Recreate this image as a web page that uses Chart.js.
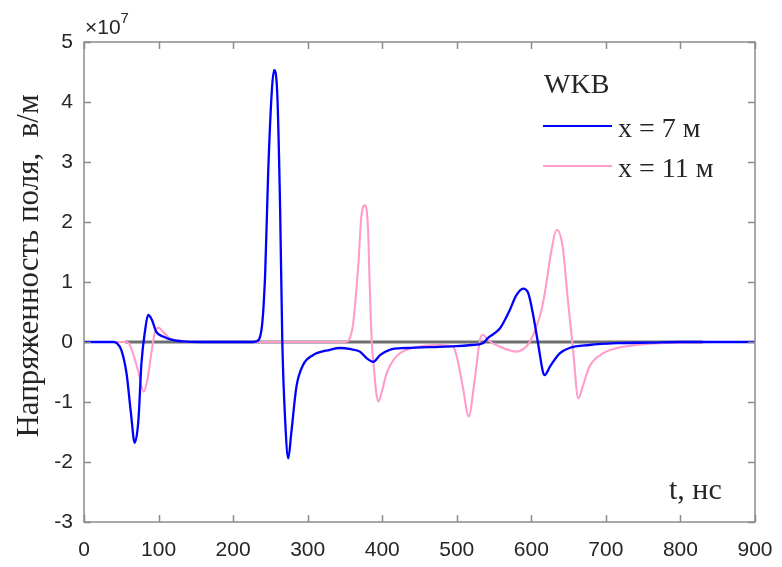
<!DOCTYPE html>
<html lang="ru">
<head>
    <meta charset="UTF-8">
    <title>Напряженность поля, WKB</title>
    <script src="https://cdn.jsdelivr.net/npm/chart.js@4.4.0/dist/chart.umd.min.js"></script>
    <style>
        body { margin: 0; background: #fff; }
        #wrap { width: 782px; height: 567px; }
    </style>
</head>
<body>
    <div id="wrap"><canvas id="fieldChart" width="782" height="567"></canvas></div>

    <script>
        // поле E(t) в единицах 1e7 В/м, время в нс
        const tX7 = [0, 40, 44, 50, 57, 63, 68, 73, 77, 82, 86, 91, 97, 106, 120, 138, 160,
            225, 231, 238, 243, 247, 252, 255, 259, 263, 266, 270, 274, 278, 285, 294, 307, 330, 343,
            358, 370, 379, 388, 397, 410, 432, 477, 500, 520, 535, 542, 550, 558, 565, 571, 580, 589,
            596, 602, 609, 616, 618, 625, 638, 651, 678, 714, 760, 800, 900];
        const eX7 = [0, 0, -0.02, -0.13, -0.52, -1.19, -1.68, -1.3, -0.36, 0.2, 0.45, 0.37, 0.17, 0.09, 0.03, 0.005, 0,
            0, 0.01, 0.2, 1.14, 2.81, 4.2, 4.53, 4.2, 2.26, 0, -1.35, -1.94, -1.52, -0.74, -0.38, -0.22, -0.13, -0.1,
            -0.12, -0.16, -0.27, -0.33, -0.22, -0.13, -0.1, -0.08, -0.07, -0.05, -0.02, 0.07, 0.14, 0.23, 0.38, 0.53, 0.78, 0.89,
            0.81, 0.48, -0.02, -0.52, -0.55, -0.41, -0.19, -0.1, -0.05, -0.02, -0.01, 0, 0];

        const tX11 = [0, 55, 60, 66, 73, 80, 85, 91, 95, 100, 106, 115, 129, 147,
            350, 356, 361, 368, 372, 377, 381, 383, 386, 389, 392, 395, 399, 406, 419, 441, 477,
            495, 500, 508, 516, 524, 531, 535, 542, 558, 580, 593, 600, 607, 613, 618, 627, 634,
            642, 649, 656, 663, 669, 678, 696, 723, 759, 800, 850, 900];
        const eX11 = [0, 0, -0.02, -0.2, -0.5, -0.83, -0.63, -0.13, 0.15, 0.24, 0.17, 0.06, 0.02, 0,
            0, 0.05, 0.31, 1.3, 2.09, 2.28, 1.87, 1.03, 0, -0.45, -0.85, -0.99, -0.85, -0.52, -0.24, -0.1, -0.05,
            -0.08, -0.24, -0.74, -1.24, -0.63, 0.03, 0.12, 0.03, -0.08, -0.16, -0.08, 0.05, 0.26, 0.5, 0.81, 1.53, 1.87,
            1.59, 0.7, -0.13, -0.94, -0.74, -0.41, -0.19, -0.08, -0.03, -0.01, 0, 0];

        const tZero = [55, 830];
        const eZero = [0, 0];

        const seriesNames = ['x = 7 м', 'x = 11 м'];
        const xTicks = [0, 100, 200, 300, 400, 500, 600, 700, 800, 900];
        const yTicks = [-3, -2, -1, 0, 1, 2, 3, 4, 5];

        const blue = '#0000ff';
        const pink = '#ff9ccb';
        const axisGrey = '#8c8c8c';
        const textCol = '#262626';
        const serif = '"Liberation Serif", "Times New Roman", serif';
        const sans = '"Liberation Sans", Arial, sans-serif';

        const pts = (xs, ys) => xs.map((x, i) => ({ x: x, y: ys[i] }));

        // рамка, засечки внутрь, множитель, подписи осей и легенда
        const decor = {
            id: 'decor',
            afterDraw(chart) {
                const ctx = chart.ctx;
                const a = chart.chartArea;
                const xs = chart.scales.x, ys = chart.scales.y;
                ctx.save();
                ctx.strokeStyle = axisGrey;
                ctx.lineWidth = 1.5;
                ctx.strokeRect(a.left, a.top, a.right - a.left, a.bottom - a.top);
                ctx.beginPath();
                xTicks.forEach(v => {
                    const p = Math.round(xs.getPixelForValue(v)) + 0.5;
                    ctx.moveTo(p, a.bottom); ctx.lineTo(p, a.bottom - 7);
                    ctx.moveTo(p, a.top); ctx.lineTo(p, a.top + 7);
                });
                yTicks.forEach(v => {
                    const p = Math.round(ys.getPixelForValue(v)) + 0.5;
                    ctx.moveTo(a.left, p); ctx.lineTo(a.left + 7, p);
                    ctx.moveTo(a.right, p); ctx.lineTo(a.right - 7, p);
                });
                ctx.stroke();

                // ×10^7
                ctx.fillStyle = textCol;
                ctx.textBaseline = 'alphabetic';
                ctx.textAlign = 'left';
                ctx.font = '21px ' + sans;
                ctx.fillText('×10', a.left + 1, 34);
                const w = ctx.measureText('×10').width;
                ctx.font = '15px ' + sans;
                ctx.fillText('7', a.left + 1 + w, 23);

                // подпись оси Y
                ctx.font = '31px ' + serif;
                ctx.translate(30, 266);
                ctx.rotate(-Math.PI / 2);
                ctx.textAlign = 'center';
                ctx.textBaseline = 'middle';
                ctx.fillText('Напряженность поля,  в/м', 0, 0);
                ctx.setTransform(1, 0, 0, 1, 0, 0);

                // подпись оси X
                ctx.textAlign = 'left';
                ctx.textBaseline = 'middle';
                ctx.font = '30px ' + serif;
                ctx.fillText('t, нс', 669, 491);

                // легенда
                ctx.font = '28px ' + serif;
                ctx.fillText('WKB', 544, 86);
                const colors = [blue, pink];
                const rows = [126, 166];
                seriesNames.forEach((name, i) => {
                    ctx.strokeStyle = colors[i];
                    ctx.lineWidth = 2.2;
                    ctx.beginPath();
                    ctx.moveTo(543, rows[i]);
                    ctx.lineTo(612, rows[i]);
                    ctx.stroke();
                    ctx.fillStyle = textCol;
                    ctx.fillText(name, 618, rows[i] + 4);
                });
                ctx.restore();
            }
        };

        new Chart(document.getElementById('fieldChart'), {
            type: 'line',
            data: {
                datasets: [
                    { label: seriesNames[0], data: pts(tX7, eX7), borderColor: blue, borderWidth: 2.3,
                      cubicInterpolationMode: 'monotone' },
                    { label: seriesNames[1], data: pts(tX11, eX11), borderColor: pink, borderWidth: 2.1,
                      cubicInterpolationMode: 'monotone' },
                    { label: 'zero', data: pts(tZero, eZero), borderColor: '#6e6e6e', borderWidth: 3 }
                ]
            },
            options: {
                responsive: false,
                animation: false,
                layout: { padding: { left: 0, top: 42, right: 27, bottom: 0 } },
                elements: { point: { radius: 0 } },
                plugins: { legend: { display: false }, tooltip: { enabled: false } },
                scales: {
                    x: {
                        type: 'linear', min: 0, max: 900,
                        afterFit: s => { s.height = 45; },
                        afterBuildTicks: s => { s.ticks = xTicks.map(v => ({ value: v })); },
                        grid: { display: false },
                        border: { display: false },
                        ticks: { color: textCol, padding: 8, maxRotation: 0,
                                 font: { family: sans, size: 21 } }
                    },
                    y: {
                        type: 'linear', min: -3, max: 5,
                        afterFit: s => { s.width = 84; },
                        afterBuildTicks: s => { s.ticks = yTicks.map(v => ({ value: v })); },
                        grid: { display: false },
                        border: { display: false },
                        ticks: { color: textCol, padding: 3,
                                 font: { family: sans, size: 21 } }
                    }
                }
            },
            plugins: [decor]
        });
    </script>
</body>
</html>
